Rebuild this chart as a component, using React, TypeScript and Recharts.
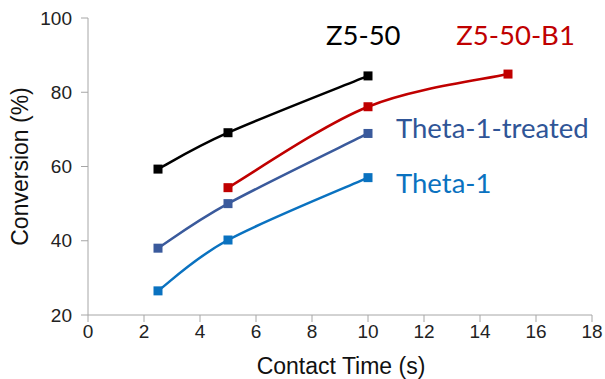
import React from 'react';
import { LineChart, Line, XAxis, YAxis, ReferenceDot, Label } from 'recharts';

const xTicks = [0, 2, 4, 6, 8, 10, 12, 14, 16, 18];
const yTicks = [20, 40, 60, 80, 100];

const z550Time = [2.5, 5, 10];
const z550Conv = [59.3, 69.1, 84.4];
const z550B1Time = [5, 10, 15];
const z550B1Conv = [54.3, 76.1, 84.9];
const thetaTreatedTime = [2.5, 5, 10];
const thetaTreatedConv = [38.0, 50.0, 68.9];
const thetaTime = [2.5, 5, 10];
const thetaConv = [26.5, 40.2, 57.0];

const seriesNames = ['Z5-50', 'Z5-50-B1', 'Theta-1-treated', 'Theta-1'];
const seriesColors = ['#000000', '#C00000', '#3A5A9C', '#0A72C0'];
const labelColors = ['#000000', '#C00000', '#2F5597', '#0A72C0'];
// annotation anchors in data coordinates
const labelAnchorX = [9.83, 15.27, 11.0, 11.0];
const labelAnchorY = [92.8, 92.8, 67.7, 52.9];
const labelAlign = ['middle', 'middle', 'start', 'start'];

const toRows = (t: number[], v: number[]) => t.map((x, i) => ({ time: x, conv: v[i] }));

const seriesData = [
  toRows(z550Time, z550Conv),
  toRows(z550B1Time, z550B1Conv),
  toRows(thetaTreatedTime, thetaTreatedConv),
  toRows(thetaTime, thetaConv),
];

const AXIS_GRAY = '#A6A6A6';
const TICK_FONT = 'Liberation Sans, Arial, sans-serif';

// Spreadsheet-style smoothed line (Catmull-Rom Bezier, tension 1/6)
function SmoothCurve(this: any, context: any) {
  this._context = context;
  this._pts = [];
}
SmoothCurve.prototype = {
  areaStart() {},
  areaEnd() {},
  lineStart() {
    this._pts = [];
  },
  lineEnd() {
    const p = this._pts;
    const n = p.length;
    const c = this._context;
    if (n === 0) return;
    c.moveTo(p[0][0], p[0][1]);
    for (let i = 0; i < n - 1; i++) {
      const p0 = p[i - 1] || p[i];
      const p1 = p[i];
      const p2 = p[i + 1];
      const p3 = p[i + 2] || p[i + 1];
      c.bezierCurveTo(
        p1[0] + (p2[0] - p0[0]) / 6,
        p1[1] + (p2[1] - p0[1]) / 6,
        p2[0] - (p3[0] - p1[0]) / 6,
        p2[1] - (p3[1] - p1[1]) / 6,
        p2[0],
        p2[1]
      );
    }
  },
  point(x: number, y: number) {
    this._pts.push([+x, +y]);
  },
};
const smoothCurve = (context: any) => new (SmoothCurve as any)(context);

const squareDot = (color: string) => (props: any) => {
  const { cx, cy, index } = props;
  return <rect key={`d-${index}`} x={cx - 4.5} y={cy - 4.5} width={9} height={9} fill={color} />;
};

export default function App() {
  return (
    <div style={{ position: 'absolute', left: 0, top: 0, width: 605, height: 379, background: '#fff' }}>
      <LineChart width={605} height={379} margin={{ top: 18, right: 13, bottom: 0, left: 0 }}>
        <XAxis
          type="number"
          dataKey="time"
          domain={[0, 18]}
          ticks={xTicks}
          allowDataOverflow
          height={64}
          stroke={AXIS_GRAY}
          tickSize={7}
          tickMargin={3}
          tick={{ fill: '#222', fontSize: 19, fontFamily: TICK_FONT }}
        >
          <Label
            content={(p: any) => {
              const vb = p.viewBox;
              return (
                <text
                  x={vb.x + vb.width / 2 + 1}
                  y={vb.y + vb.height - 5}
                  textAnchor="middle"
                  fill="#111"
                  fontSize={23}
                  fontFamily={TICK_FONT}
                >
                  Contact Time (s)
                </text>
              );
            }}
          />
        </XAxis>
        <YAxis
          type="number"
          dataKey="conv"
          domain={[20, 100]}
          ticks={yTicks}
          allowDataOverflow
          width={88}
          stroke={AXIS_GRAY}
          tickSize={7}
          tickMargin={9}
          tick={{ fill: '#222', fontSize: 19, fontFamily: TICK_FONT }}
        >
          <Label
            content={(p: any) => {
              const vb = p.viewBox;
              const cy = vb.y + vb.height / 2;
              return (
                <text
                  x={28}
                  y={cy}
                  transform={`rotate(-90, 28, ${cy})`}
                  textAnchor="middle"
                  fill="#111"
                  fontSize={23}
                  fontFamily={TICK_FONT}
                >
                  Conversion (%)
                </text>
              );
            }}
          />
        </YAxis>
        {seriesData.map((d, i) => (
          <Line
            key={seriesNames[i]}
            data={d}
            dataKey="conv"
            name={seriesNames[i]}
            type={smoothCurve as any}
            stroke={seriesColors[i]}
            strokeWidth={2.5}
            dot={squareDot(seriesColors[i])}
            activeDot={false}
            isAnimationActive={false}
          />
        ))}
        {seriesNames.map((name, i) => (
          <ReferenceDot
            key={`lbl-${name}`}
            x={labelAnchorX[i]}
            y={labelAnchorY[i]}
            r={0}
            fill="none"
            stroke="none"
            ifOverflow="visible"
            label={{
              content: (p: any) => {
                const vb = p.viewBox;
                return (
                  <text
                    x={vb.x}
                    y={vb.y}
                    textAnchor={labelAlign[i] as any}
                    fill={labelColors[i]}
                    fontSize={27.5}
                    fontFamily="Lato, sans-serif"
                  >
                    {name}
                  </text>
                );
              },
            }}
          />
        ))}
      </LineChart>
    </div>
  );
}
